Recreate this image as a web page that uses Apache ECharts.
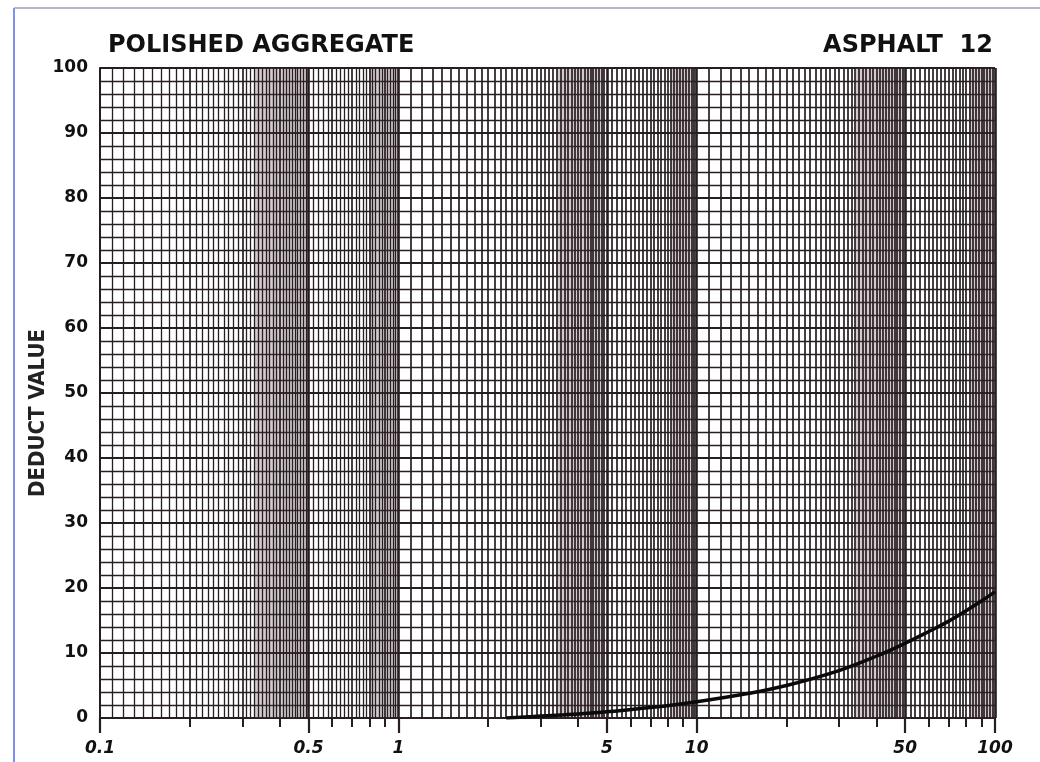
<!DOCTYPE html>
<html>
<head>
<meta charset="utf-8">
<script src="https://cdn.jsdelivr.net/npm/echarts@6/dist/echarts.min.js"></script>
<style>
  html, body { margin: 0; padding: 0; background: #fff; }
  #chart { width: 1040px; height: 762px; }
</style>
</head>
<body>
<div id="chart"></div>
<script>
// deduct curve (density %, deduct value)
const density = [2.3, 3, 4, 5, 7, 10, 15, 20, 30, 40, 50, 60, 70, 80, 90, 100];
const deduct  = [0, 0.3, 0.6, 0.95, 1.6, 2.5, 3.8, 5.0, 7.3, 9.5, 11.5, 13.3, 14.9, 16.5, 18, 19.4];

const xLabels = [0.1, 0.5, 1, 5, 10, 50, 100];
const decades = [0.1, 1, 10];

// semi-log paper rulings: 1-5 by 0.1, 5-10 by 0.2 in every decade
const rnd = v => Math.round(v * 10000) / 10000;
const gridX = [];
const minorTicks = [];
decades.forEach(d => {
  for (let k = 10; k < 50; k++) gridX.push(rnd(d * k / 10));
  for (let k = 50; k < 100; k += 2) gridX.push(rnd(d * k / 10));
  for (let k = 2; k <= 9; k++) if (k !== 5) minorTicks.push(rnd(d * k));
});
gridX.push(100);

const heavy = [0.5, 1, 5, 10, 50, 100];
const lineCol = '#261e20';

const gridLines = gridX.map(v => {
  const isHeavy = heavy.indexOf(v) >= 0;
  const isInt = decades.some(d => Math.abs(v / d - Math.round(v / d)) < 1e-6);
  return {
    xAxis: v,
    lineStyle: { color: lineCol, width: isHeavy ? 2.6 : (isInt ? 1.7 : 1.3), type: 'solid' }
  };
});

// darker scanned bands
const bands = [[0.33, 0.49], [0.8, 1], [3.4, 4.9], [8.2, 10], [34, 50], [82, 100]];

const chart = echarts.init(document.getElementById('chart'));
chart.setOption({
  animation: false,
  backgroundColor: '#fff',
  grid: { left: 100, right: 45, top: 68, bottom: 44 },
  graphic: [
    { type: 'line', shape: { x1: 14, y1: 8, x2: 14, y2: 762 }, style: { stroke: '#7d8ff0', lineWidth: 2 } },
    { type: 'line', shape: { x1: 14, y1: 8, x2: 1040, y2: 8 }, style: { stroke: '#9aa0b8', lineWidth: 1.5 } },
    { type: 'text', left: 108, top: 34, style: { text: 'POLISHED AGGREGATE', font: 'bold 24px "DejaVu Sans"', fill: '#111' } },
    { type: 'text', right: 47, top: 34, style: { text: 'ASPHALT  12', font: 'bold 24px "DejaVu Sans"', fill: '#111' } },
    { type: 'text', x: 38, y: 413, rotation: Math.PI / 2,
      style: { text: 'DEDUCT VALUE', font: 'bold 22px "DejaVu Sans Condensed"', fill: '#222', align: 'center', verticalAlign: 'middle' } }
  ],
  xAxis: [
    {
      type: 'log', logBase: 10, min: 0.1, max: 100,
      axisLine: { show: true, lineStyle: { color: lineCol, width: 2 } },
      axisTick: { show: true, length: 15, lineStyle: { color: lineCol, width: 2.2 }, customValues: xLabels },
      axisLabel: {
        customValues: xLabels, margin: 22,
        fontFamily: 'DejaVu Sans', fontWeight: 'bold', fontStyle: 'italic', fontSize: 17, color: '#111',
        formatter: v => String(v)
      },
      splitLine: { show: false },
      minorTick: { show: false }
    },
    {
      type: 'log', logBase: 10, min: 0.1, max: 100, position: 'bottom',
      axisLine: { show: false },
      axisTick: { show: true, length: 9, lineStyle: { color: lineCol, width: 2 }, customValues: minorTicks },
      axisLabel: { show: false },
      splitLine: { show: false }
    }
  ],
  yAxis: {
    type: 'value', min: 0, max: 100, interval: 10,
    axisLine: { show: true, lineStyle: { color: lineCol, width: 2 } },
    axisTick: { show: false },
    axisLabel: { margin: 12, fontFamily: 'DejaVu Sans', fontWeight: 'bold', fontSize: 17, color: '#111' },
    splitLine: { show: true, lineStyle: { color: lineCol, width: 1.8 } },
    minorTick: { show: false, splitNumber: 5 },
    minorSplitLine: { show: true, lineStyle: { color: lineCol, width: 1.3 } }
  },
  series: [
    {
      name: 'paper',
      type: 'line',
      z: 1,
      data: [[0.1, 0]],
      symbol: 'none',
      lineStyle: { width: 0 },
      silent: true,
      markArea: {
        silent: true,
        itemStyle: { color: 'rgba(105, 78, 84, 0.3)' },
        data: bands.map(b => [{ xAxis: b[0] }, { xAxis: b[1] }])
      },
      markLine: {
        silent: true,
        symbol: 'none',
        animation: false,
        label: { show: false },
        data: gridLines
      }
    },
    {
      name: 'Deduct',
      type: 'line',
      z: 5,
      smooth: 0.4,
      symbol: 'none',
      lineStyle: { color: '#0a0a0a', width: 3.5 },
      data: density.map((x, i) => [x, deduct[i]])
    }
  ]
});
</script>
</body>
</html>
